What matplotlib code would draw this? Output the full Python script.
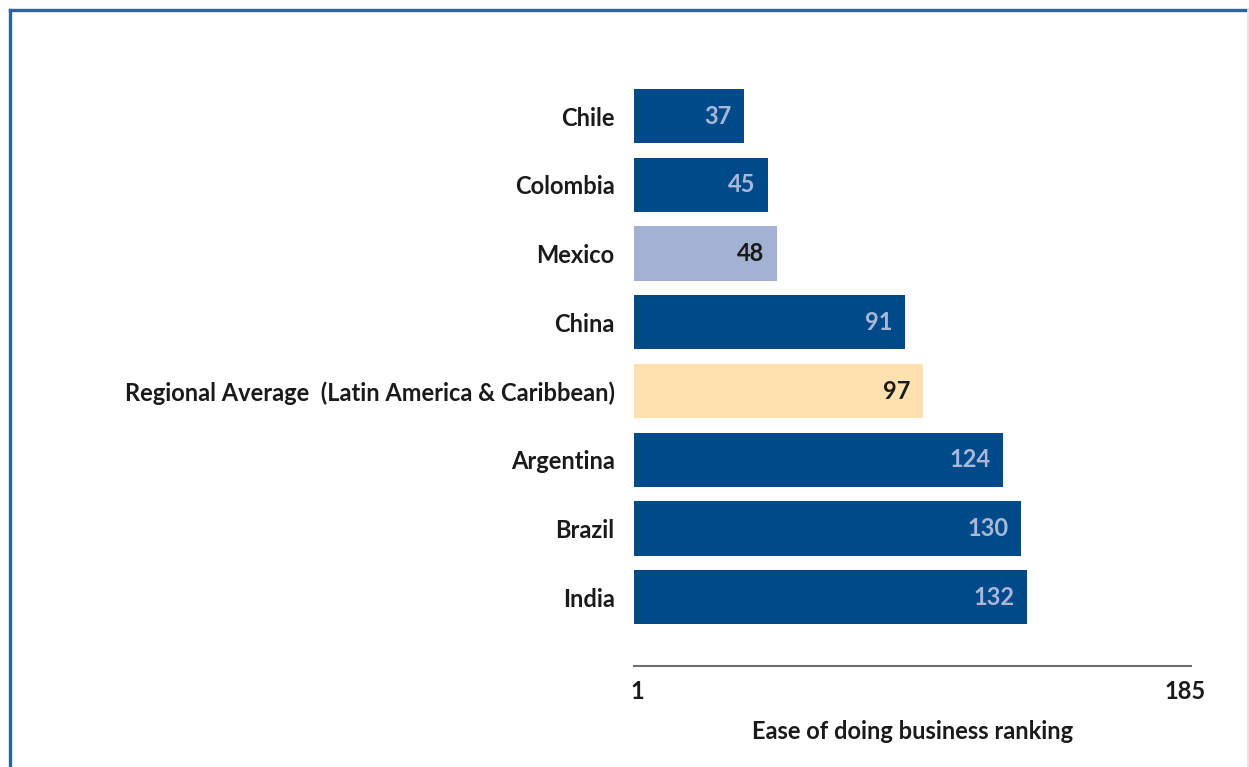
import matplotlib.pyplot as plt
from matplotlib.lines import Line2D

countries = ["Chile", "Colombia", "Mexico", "China",
             "Regional Average  (Latin America & Caribbean)",
             "Argentina", "Brazil", "India"]
ranking = [37, 45, 48, 91, 97, 124, 130, 132]
bar_colors = ["#004a8a", "#004a8a", "#a3b1d3", "#004a8a",
              "#ffe0ae", "#004a8a", "#004a8a", "#004a8a"]
label_colors = ["#a9b8d8", "#a9b8d8", "#1a1a1a", "#a9b8d8",
                "#1a1a1a", "#a9b8d8", "#a9b8d8", "#a9b8d8"]
tick_vals = [1, 185]

plt.rcParams['font.family'] = ['Lato', 'DejaVu Sans']
fs = 17

fig = plt.figure(figsize=(12.49, 7.67), dpi=100)
ax = fig.add_axes([634/1249, 1-666/767, (1191-634)/1249, (666-81.7)/767])

y = list(range(len(countries)))
ax.barh(y, ranking, height=0.79, color=bar_colors, edgecolor="none")

for i, v in enumerate(ranking):
    ax.text(v - 4.3, i, str(v), ha="right", va="center", fontsize=fs,
            fontweight="bold", color=label_colors[i])

ax.set_xlim(0, 187)
ax.set_ylim(8, -0.5)
ax.set_yticks(y)
ax.set_yticklabels(countries, fontsize=fs, fontweight="bold", color="#1a1a1a")
ax.tick_params(axis="y", length=0, pad=14)
ax.set_xticks(tick_vals)
ax.set_xticklabels([str(t) for t in tick_vals], fontsize=fs,
                   fontweight="bold", color="#1a1a1a")
ax.tick_params(axis="x", length=0, pad=10)
ax.set_xlabel("Ease of doing business ranking", fontsize=fs,
              fontweight="bold", color="#1a1a1a", labelpad=12)

for s in ["top", "right", "left"]:
    ax.spines[s].set_visible(False)
ax.spines["bottom"].set_color("#707070")
ax.spines["bottom"].set_linewidth(1.5)

# frame: dark top and left, faint right
W, H = 1249, 767
fig.lines.append(Line2D([10/W, 10/W], [0, 1-9.5/H], transform=fig.transFigure,
                        color="#2a64a0", linewidth=2.4))
fig.lines.append(Line2D([10/W, 1], [1-9.5/H, 1-9.5/H], transform=fig.transFigure,
                        color="#2a64a0", linewidth=2.4))
fig.lines.append(Line2D([1248/W, 1248/W], [0, 1-9.5/H], transform=fig.transFigure,
                        color="#dde6ef", linewidth=2))

fig.savefig("out.png", dpi=100)
